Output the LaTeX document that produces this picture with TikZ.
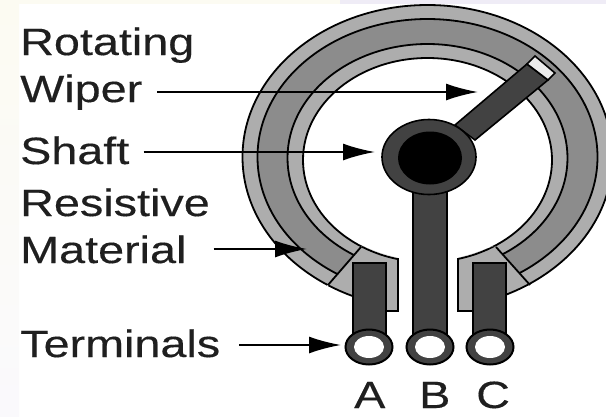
\documentclass[tikz,border=0pt]{standalone}
\usepackage{fontspec}
\setmainfont{Liberation Sans}[FakeStretch=1.23,FakeBold=0.3]
\usepackage{xcolor}
\usetikzlibrary{arrows.meta,shapes.geometric}
\definecolor{potLight}{gray}{0.68}
\definecolor{potMid}{gray}{0.55}
\definecolor{potDark}{gray}{0.26}
\definecolor{potCream}{HTML}{FCFBF2}
\definecolor{potLilac}{HTML}{EFECF6}
\definecolor{potInk}{gray}{0.12}

\begin{document}
\begin{tikzpicture}[
  x=1pt, y=-1pt,
  every node/.style={inner sep=0pt, text=potInk, font=\fontsize{38}{47}\selectfont},
  label/.style={anchor=base west},
  band/.style={draw=black, line width=1.8pt},
  metal/.style={draw=black, line width=1.6pt, fill=potDark},
  termring/.style={ellipse, draw=black, line width=2pt, fill=potDark, minimum width=47pt, minimum height=35pt},
  termhole/.style={ellipse, fill=white, minimum width=30pt, minimum height=22pt},
  pointer/.style={-{Latex[length=32pt, width=17pt]}, line width=2pt, black},
]
  \clip (0,0) rectangle (606,416);
  % faint slide background
  \fill[white] (0,0) rectangle (606,416);
  \fill[potCream] (0,0) rectangle (340,4);
  \fill[potLilac] (340,0) rectangle (606,4);
  \shade[top color=potCream, bottom color=potLilac!30] (0,4) rectangle (19,416);

  % ring
  \fill[potLight, band] (427.5,157) ellipse [x radius=185pt, y radius=152pt];
  \fill[potMid, band] (427.5,157) ellipse [x radius=170pt, y radius=138pt];
  \fill[potLight, band] (427.5,158) ellipse [x radius=140pt, y radius=114pt];
  \fill[white, band] (427.5,160) ellipse [x radius=124.5pt, y radius=102pt];
  \fill[white] (362,247) -- (327,286) -- (327,330) -- (531,330) -- (531,286) -- (496,247) -- cycle;

  % ring ends beside terminals A and C
  \begin{scope}
    \clip (362,246) -- (328,286) -- (328,320) -- (398,320) -- (398,258) -- (380,253) -- cycle;
    \fill[potLight, band] (427.5,157) ellipse [x radius=185pt, y radius=152pt];
    \fill[white, band] (427.5,160) ellipse [x radius=124.5pt, y radius=102pt];
  \end{scope}
  \begin{scope}
    \clip (494,246) -- (530,286) -- (530,320) -- (458,320) -- (458,258) -- (475,253) -- cycle;
    \fill[potLight, band] (427.5,157) ellipse [x radius=185pt, y radius=152pt];
    \fill[white, band] (427.5,160) ellipse [x radius=124.5pt, y radius=102pt];
  \end{scope}
  \draw[band] (361,247) -- (328,285);
  \draw[band] (496,247) -- (530,285);
  \fill[potLight] (384,262) rectangle (398,311);
  \fill[potLight] (458,262) rectangle (472,311);
  \draw[band] (398,258) -- (398,311) -- (384,311);
  \draw[band] (458,258) -- (458,311) -- (472,311);

  % wiper and its contact
  \draw[metal] (455,125) -- (527,64) -- (548,80) -- (475,140) -- cycle;
  \draw[line width=1.6pt, draw=black, fill=gray!15] (527,64) -- (535,56) -- (555,73) -- (548,80) -- cycle;

  % terminals
  \draw[metal] (353,263) rectangle (386,335);
  \draw[metal] (413,180) rectangle (447,335);
  \draw[metal] (473,263) rectangle (506,335);
  \node[termring] (termA) at (369,347) {};
  \node[termring] (termB) at (430,347) {};
  \node[termring] (termC) at (490,347) {};
  \node[termhole] (holeA) at (369,347) {};
  \node[termhole] (holeB) at (430,347) {};
  \node[termhole] (holeC) at (490,347) {};

  % shaft
  \node[ellipse, draw=black, line width=1.6pt, fill=potDark, minimum width=94pt, minimum height=75pt] (shaft) at (429,157) {};
  \node[ellipse, fill=black, minimum width=64pt, minimum height=53pt] (core) at (430,158) {};

  % labels
  \node[label] (rotating) at (20,55) {Rotating};
  \node[label] (wiper) at (20,102) {Wiper};
  \node[label] (shaftlabel) at (20,164) {Shaft};
  \node[label] (resistive) at (20,216) {Resistive};
  \node[label] (material) at (20,263) {Material};
  \node[label] (terminals) at (20,357) {Terminals};
  \node[label] (letterA) at (354,408) {A};
  \node[label] (letterB) at (419,408) {B};
  \node[label] (letterC) at (476,408) {C};

  \coordinate (wiperTip) at (478,92);
  \coordinate (shaftTip) at (375,152);
  \coordinate (materialTip) at (307,249);
  \coordinate (terminalTip) at (341,345);

  \draw[pointer, shorten <=15pt] (wiper.east |- wiperTip) -- (wiperTip);
  \draw[pointer, shorten <=14pt] (shaftlabel.east |- shaftTip) -- (shaftTip);
  \draw[pointer, shorten <=27pt] (material.east |- materialTip) -- (materialTip);
  \draw[pointer, shorten <=19pt] (terminals.east |- terminalTip) -- (terminalTip);
\end{tikzpicture}
\end{document}
